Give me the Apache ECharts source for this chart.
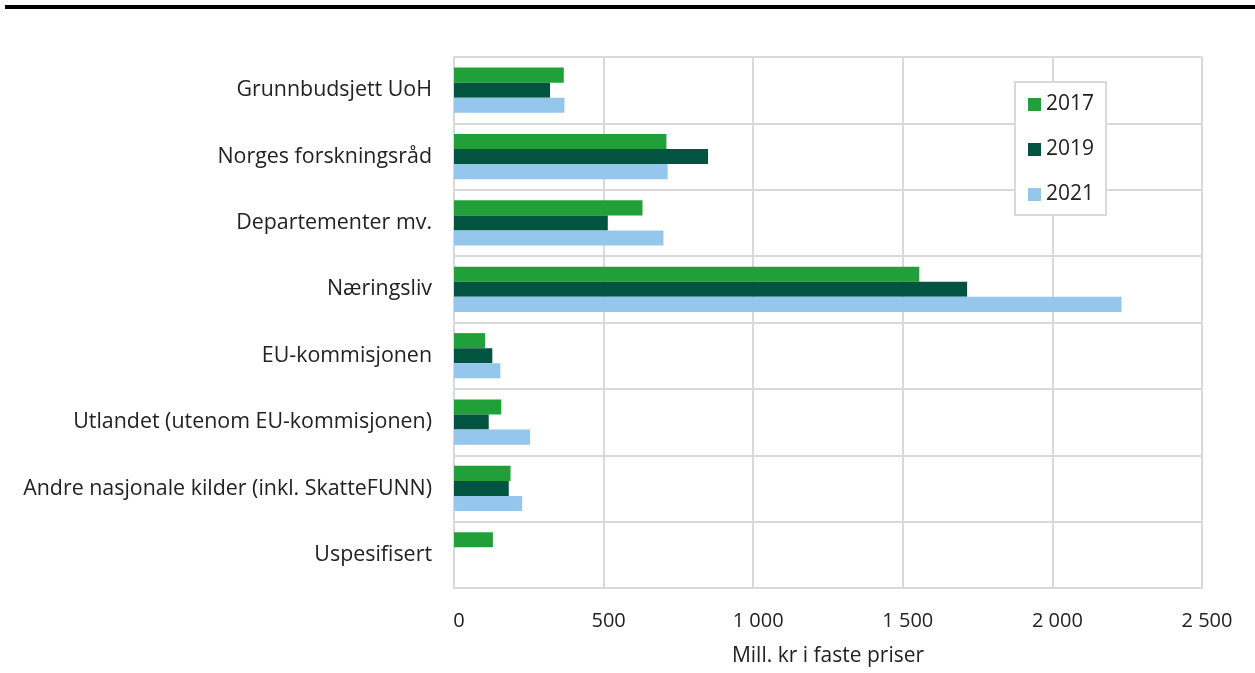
<!DOCTYPE html>
<html>
<head>
<meta charset="utf-8">
<script src="https://cdn.jsdelivr.net/npm/echarts@6/dist/echarts.min.js"></script>
<style>
  html, body { margin: 0; padding: 0; background: #fff; }
  #chart { width: 1255px; height: 673px; }
</style>
</head>
<body>
<div id="chart"></div>
<script>
// kategorier, ovenfra og ned
const categories = [
  'Grunnbudsjett UoH',
  'Norges forskningsråd',
  'Departementer mv.',
  'Næringsliv',
  'EU-kommisjonen',
  'Utlandet (utenom EU-kommisjonen)',
  'Andre nasjonale kilder (inkl. SkatteFUNN)',
  'Uspesifisert'
];
const years = ['2017', '2019', '2021'];
const values2017 = [367, 710, 630, 1555, 104, 158, 189, 130];
const values2019 = [321, 849, 514, 1715, 128, 116, 183, null];
const values2021 = [369, 714, 700, 2231, 155, 254, 228, null];
const xTicks = [0, 500, 1000, 1500, 2000, 2500];
const colors = ['#21a03a', '#02533f', '#95c6ec'];

const chart = echarts.init(document.getElementById('chart'));
const font = '"Open Sans", "Noto Sans", sans-serif';

const seriesData = [values2017, values2019, values2021];

chart.setOption({
  animation: false,
  textStyle: { fontFamily: font },
  graphic: [{
    type: 'rect',
    shape: { x: 5, y: 5, width: 1250, height: 4 },
    style: { fill: '#000' }
  }],
  grid: { left: 454, right: 53, top: 57, bottom: 85 },
  legend: {
    data: years,
    orient: 'vertical',
    left: 1015,
    top: 82,
    icon: 'rect',
    itemWidth: 13,
    itemHeight: 13,
    itemGap: 24,
    padding: [12, 12, 10, 13],
    backgroundColor: '#fff',
    borderColor: '#d9d9d9',
    borderWidth: 2,
    textStyle: { fontFamily: font, fontSize: 21, color: '#222' }
  },
  xAxis: {
    type: 'value',
    min: xTicks[0],
    max: xTicks[xTicks.length - 1],
    interval: 500,
    name: 'Mill. kr i faste priser',
    nameLocation: 'middle',
    nameGap: 58,
    nameTextStyle: { fontFamily: font, fontSize: 21, color: '#222' },
    axisLine: { show: true, lineStyle: { color: '#d9d9d9', width: 2 } },
    axisTick: { show: false },
    axisLabel: {
      margin: 23,
      fontSize: 20,
      color: '#222',
      fontFamily: font,
      padding: [0, 0, 0, 10],
      formatter: v => String(v).replace(/\B(?=(\d{3})+(?!\d))/g, ' ')
    },
    splitLine: { show: true, lineStyle: { color: '#d9d9d9', width: 2 } }
  },
  yAxis: {
    type: 'category',
    data: categories,
    inverse: true,
    axisLine: { show: true, lineStyle: { color: '#d9d9d9', width: 2 } },
    axisTick: { show: false },
    axisLabel: { margin: 22, fontSize: 21.4, color: '#222', fontFamily: font },
    splitLine: { show: true, lineStyle: { color: '#d9d9d9', width: 2 } }
  },
  series: years.map((y, i) => ({
    name: y,
    type: 'bar',
    data: seriesData[i],
    itemStyle: { color: colors[i] },
    barGap: '0%',
    barCategoryGap: '32%'
  }))
});
</script>
</body>
</html>
